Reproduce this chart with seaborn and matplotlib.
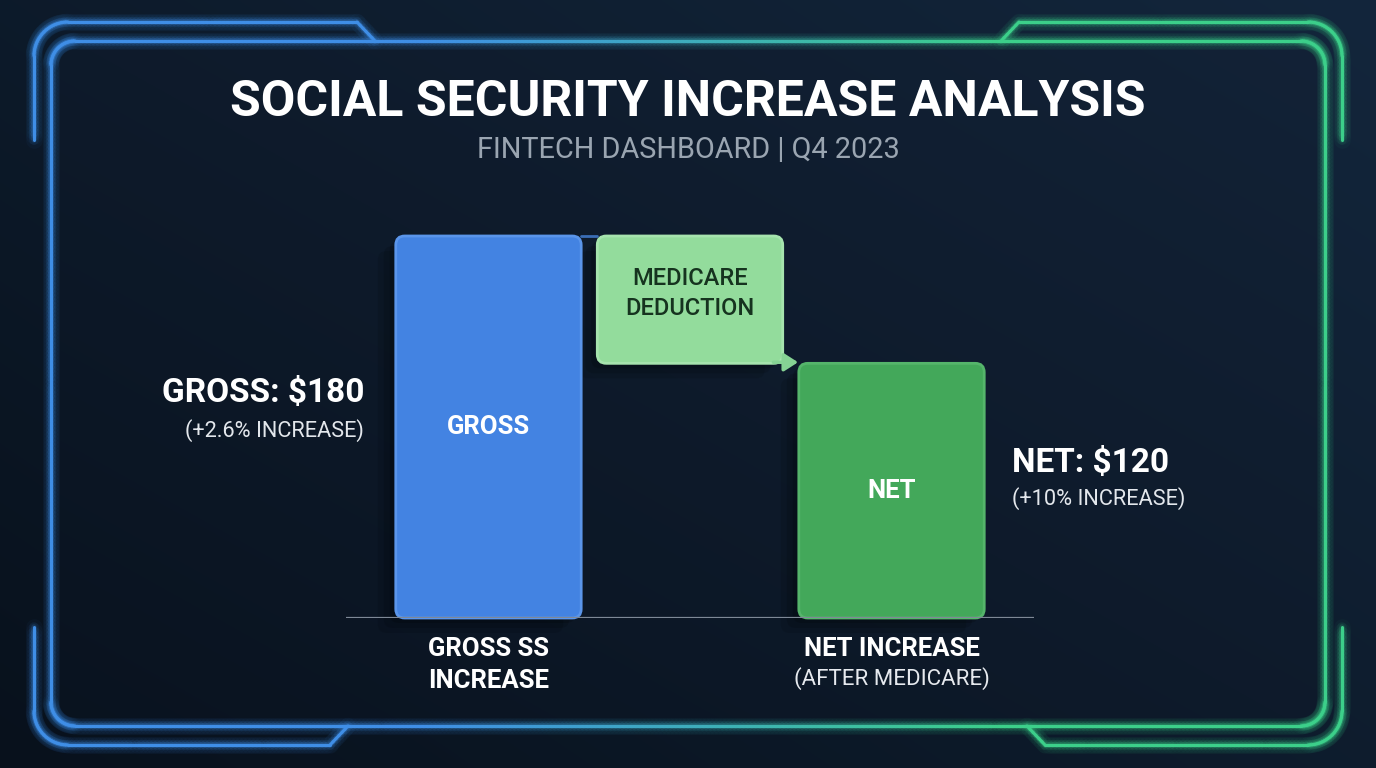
"""
Social Security increase waterfall - dark fintech dashboard style
Output: out.png
"""
import matplotlib
matplotlib.use('Agg')
import matplotlib.pyplot as plt
import seaborn as sns
import pandas as pd
import numpy as np
from matplotlib.patches import FancyBboxPatch
from matplotlib.collections import LineCollection
from matplotlib.colors import to_rgb

# --- data ---
categories = ['GROSS', 'MEDICARE\nDEDUCTION', 'NET']
values = [180, 60, 120]
bottoms = [0, 120, 0]
bar_colors = ['#4383e2', '#93dc9c', '#43a85a']
edge_colors = ['#5a95ea', '#a6e4ae', '#55b56b']
inner_text_colors = ['white', '#16331f', 'white']

title = 'SOCIAL SECURITY INCREASE ANALYSIS'
subtitle = 'FINTECH DASHBOARD | Q4 2023'
gross_label, gross_note = 'GROSS: $180', '(+2.6% INCREASE)'
net_label, net_note = 'NET: $120', '(+10% INCREASE)'
x_labels = {0: ('GROSS SS\nINCREASE', None), 2: ('NET INCREASE', '(AFTER MEDICARE)')}

W, H = 1376, 768
BLUE, GREEN = '#3f8ee6', '#3ccf8a'

sns.set_theme(style='dark')
plt.rcParams['font.family'] = ['Roboto', 'DejaVu Sans']

fig = plt.figure(figsize=(W / 100, H / 100), dpi=100)
fig.patch.set_facecolor('#0a1422')

# --- background layer (pixel coords) ---
bg = fig.add_axes([0, 0, 1, 1], zorder=0)
bg.set_xlim(0, W); bg.set_ylim(H, 0); bg.axis('off')
yy, xx = np.mgrid[0:H, 0:W]
t = np.clip(0.55 * xx / W + 0.45 * (1 - yy / H), 0, 1)[..., None]
c0, c1 = np.array(to_rgb('#08111c')), np.array(to_rgb('#13263c'))
bg.imshow(c0 + (c1 - c0) * t, extent=(0, W, H, 0), aspect='auto', zorder=0)

panel = FancyBboxPatch((51, 41), 1274, 685, boxstyle='round,pad=0,rounding_size=24',
                       facecolor='none', edgecolor='none', zorder=1)
bg.add_patch(panel)
tp = np.clip(0.5 * xx / W + 0.5 * (1 - yy / H), 0, 1)[..., None]
p0, p1 = np.array(to_rgb('#09121e')), np.array(to_rgb('#132338'))
im = bg.imshow(p0 + (p1 - p0) * tp, extent=(0, W, H, 0), aspect='auto', zorder=1)
im.set_clip_path(panel)

# --- chart axes ---
ax = fig.add_axes([346 / W, (H - 618) / H, (1034 - 346) / W, (618 - 236) / H], zorder=2)
ax.patch.set_alpha(0)
df = pd.DataFrame({'category': categories, 'value': values})
sns.barplot(data=df, x='category', y='value', hue='category', palette=bar_colors,
            legend=False, width=0.92, saturation=1, ax=ax)
ax.set_xlim(-0.707, 2.707)
ax.set_ylim(0, 180)
ax.axis('off')

# pixel-per-unit ratio so rounded corners stay circular
px_x = ax.bbox.width / (2.707 + 0.707)
px_y = ax.bbox.height / 180
aspect = px_x / px_y
r = 9 / px_x

for i, patch in enumerate(list(ax.patches)):
    x0, w, h = patch.get_x(), patch.get_width(), patch.get_height()
    b = bottoms[i]
    patch.remove()
    # soft shadow towards lower-left
    for k, a in [(3, 0.10), (2, 0.12), (1, 0.15)]:
        sh = FancyBboxPatch((x0 - k * 6 / px_x, b - k * 5 / px_y), w, h,
                            boxstyle=f'round,pad=0,rounding_size={r}', mutation_aspect=aspect,
                            facecolor='black', edgecolor='none', alpha=a, zorder=1, clip_on=False)
        ax.add_patch(sh)
    box = FancyBboxPatch((x0, b), w, h, boxstyle=f'round,pad=0,rounding_size={r}',
                         mutation_aspect=aspect, facecolor=bar_colors[i],
                         edgecolor=edge_colors[i], linewidth=2, zorder=3, clip_on=False)
    ax.add_patch(box)
    if i == 1:
        ax.text(x0 + w / 2, b + h / 2 + 3, categories[i], ha='center', va='center',
                color=inner_text_colors[i], fontsize=17, fontweight='medium',
                linespacing=1.4, zorder=4)
    else:
        ax.text(x0 + w / 2, b + h / 2, categories[i], ha='center', va='center',
                color=inner_text_colors[i], fontsize=18.5, fontweight='bold', zorder=4)

# connector between gross top and deduction top
ax.plot([0.46, 0.54], [180, 180], color='#3a6db5', lw=2, zorder=2, clip_on=False)
# arrow from deduction box to net bar
ax.annotate('', xy=(1.55, 120.5), xytext=(1.40, 120.5),
            arrowprops=dict(arrowstyle='-|>,head_length=0.7,head_width=0.45',
                            color='#86d394', lw=2.5), zorder=5, annotation_clip=False)
ax.axhline(0, color='#7e8896', lw=1.6, zorder=4)

for i, (main, sub) in x_labels.items():
    ax.annotate(main, xy=(i, 0), xytext=(0, -19), textcoords='offset pixels',
                ha='center', va='top', color='white', fontsize=18.5, fontweight='bold',
                linespacing=1.4, annotation_clip=False)
    if sub:
        ax.annotate(sub, xy=(i, 0), xytext=(0, -49), textcoords='offset pixels',
                    ha='center', va='top', color='#e6e9ee', fontsize=16, annotation_clip=False)

# --- overlay (frames and text) ---
ov = fig.add_axes([0, 0, 1, 1], zorder=3)
ov.set_xlim(0, W); ov.set_ylim(H, 0); ov.axis('off'); ov.patch.set_alpha(0)


def arc(cx, cy, rad, a0, a1, n=24):
    a = np.radians(np.linspace(a0, a1, n))
    return np.column_stack([cx + rad * np.cos(a), cy + rad * np.sin(a)])


def densify(pts, step=4):
    out = [pts[0]]
    for p, q in zip(pts[:-1], pts[1:]):
        n = max(int(np.hypot(*(q - p)) / step), 1)
        for s in np.linspace(0, 1, n + 1)[1:]:
            out.append(p + (q - p) * s)
    return np.array(out)


cb, cg = np.array(to_rgb(BLUE)), np.array(to_rgb(GREEN))


def glow_line(pts):
    pts = densify(pts)
    segs = np.stack([pts[:-1], pts[1:]], axis=1)
    mx = segs[:, :, 0].mean(axis=1)
    f = np.clip((mx - 420) / (1000 - 420), 0, 1)[:, None]
    cols = cb + (cg - cb) * f
    for lw, a in [(12, 0.04), (7, 0.08), (4, 0.16), (2.2, 1.0)]:
        rgba = np.column_stack([cols, np.full(len(cols), a)])
        ov.add_collection(LineCollection(segs, colors=rgba, linewidths=lw, capstyle='round'))


# inner rounded frame
ri = 24
L, T, R, B = 51, 41, 1325, 726
inner = np.vstack([arc(L + ri, T + ri, ri, 180, 270), arc(R - ri, T + ri, ri, 270, 360),
                   arc(R - ri, B - ri, ri, 0, 90), arc(L + ri, B - ri, ri, 90, 180),
                   [[L, T + ri]]])
glow_line(inner)

# outer corner brackets
ro = 34
OL, OT, OR, OB = 34, 22, 1342, 745
glow_line(np.vstack([[[OL, 140]], arc(OL + ro, OT + ro, ro, 180, 270), [[357, OT], [375, T]]]))
glow_line(np.vstack([[[OL, 627]], arc(OL + ro, OB - ro, ro, 180, 90), [[330, OB], [348, B]]]))
glow_line(np.vstack([[[OR, 140]], arc(OR - ro, OT + ro, ro, 360, 270), [[1019, OT], [1001, T]]]))
glow_line(np.vstack([[[OR, 627]], arc(OR - ro, OB - ro, ro, 0, 90), [[1045, OB], [1027, B]]]))

# titles
ov.text(688, 103, title, ha='center', va='center', color='white', fontsize=36, fontweight='bold')
ov.text(688, 150, subtitle, ha='center', va='center', color='#9aa5b1', fontsize=20.8)

# side value labels
ov.text(365, 393, gross_label, ha='right', va='center', color='white', fontsize=24, fontweight='bold')
ov.text(364, 431, gross_note, ha='right', va='center', color='#e3e7ec', fontsize=15.7)
ov.text(1012, 463, net_label, ha='left', va='center', color='white', fontsize=24, fontweight='bold')
ov.text(1012, 499, net_note, ha='left', va='center', color='#e3e7ec', fontsize=15.7)

fig.savefig('out.png', dpi=100, facecolor=fig.get_facecolor())
plt.close(fig)
